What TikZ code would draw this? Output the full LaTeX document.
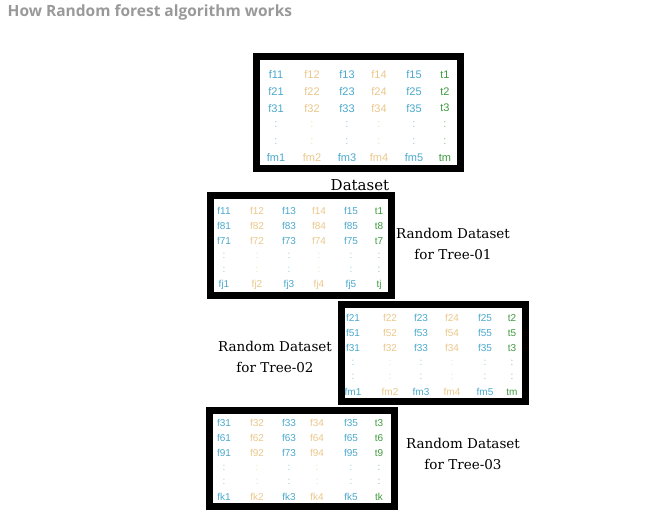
\documentclass[tikz,border=0pt]{standalone}
\usepackage{fontspec}
\setmainfont{DejaVu Serif}
\newfontfamily\cellfont{Liberation Sans}
\newfontfamily\headfont{Open Sans}
\definecolor{colblue}{HTML}{4AA8CC}
\definecolor{coltan}{HTML}{EAC78A}
\definecolor{colgreen}{HTML}{3E9A3E}
\definecolor{titlegrey}{HTML}{999999}
\begin{document}
\begin{tikzpicture}[x=1pt,y=-1pt,
    frame/.style={draw=black,line width=7pt},
    cell/.style={inner sep=0pt,font=\cellfont\fontsize{10}{12}\selectfont},
    bigcell/.style={inner sep=0pt,font=\cellfont\fontsize{11}{13}\selectfont},
    fb/.style={text=colblue},
    ft/.style={text=coltan},
    tg/.style={text=colgreen},
    gap/.style={text opacity=0.6},
    caption/.style={inner sep=0pt,align=center,font=\fontsize{13.5}{21}\selectfont}]
  \useasboundingbox (0,0) rectangle (659,519);
  \node[anchor=west,inner sep=0pt,text=titlegrey,font=\headfont\bfseries\fontsize{15.5}{18}\selectfont] (title) at (7.5,12.5) {How Random forest algorithm works};

  % dataset
  \draw[frame] (256.5,56.5) rectangle (460.5,168.5);
  \begin{scope}[every node/.style={bigcell}]
    \draw
      (276,75) node[fb] (a11){f11} (312,75) node[ft] (a12){f12} (347,75) node[fb] (a13){f13}
      (379,75) node[ft] (a14){f14} (414,75) node[fb] (a15){f15} (445,75) node[tg] (a16){t1};
    \draw
      (276,91.6) node[fb] (a21){f21} (312,91.6) node[ft] (a22){f22} (347,91.6) node[fb] (a23){f23}
      (379,91.6) node[ft] (a24){f24} (414,91.6) node[fb] (a25){f25} (445,91.6) node[tg] (a26){t2};
    \draw
      (276,108.2) node[fb] (a31){f31} (312,108.2) node[ft] (a32){f32} (347,108.2) node[fb] (a33){f33}
      (379,108.2) node[ft] (a34){f34} (414,108.2) node[fb] (a35){f35} (445,108.2) node[tg] (a36){t3};
    \draw
      (276,124.8) node[fb,gap] (a41){:} (312,124.8) node[ft,gap] (a42){:} (347,124.8) node[fb,gap] (a43){:}
      (379,124.8) node[ft,gap] (a44){:} (414,124.8) node[fb,gap] (a45){:} (445,124.8) node[tg,gap] (a46){:};
    \draw
      (276,141.4) node[fb,gap] (a51){:} (312,141.4) node[ft,gap] (a52){:} (347,141.4) node[fb,gap] (a53){:}
      (379,141.4) node[ft,gap] (a54){:} (414,141.4) node[fb,gap] (a55){:} (445,141.4) node[tg,gap] (a56){:};
    \draw
      (276,158) node[fb] (a61){fm1} (312,158) node[ft] (a62){fm2} (347,158) node[fb] (a63){fm3}
      (379,158) node[ft] (a64){fm4} (414,158) node[fb] (a65){fm5} (445,158) node[tg] (a66){tm};
  \end{scope}
  \node[caption,font=\fontsize{15}{18}\selectfont] (dataset) at (360,185) {Dataset};

  % tree 01
  \draw[frame] (210.5,195.5) rectangle (391.5,295.5);
  \begin{scope}[every node/.style={cell}]
    \draw
      (224,211) node[fb] (b11){f11} (257,211) node[ft] (b12){f12} (289,211) node[fb] (b13){f13}
      (319,211) node[ft] (b14){f14} (351,211) node[fb] (b15){f15} (379,211) node[tg] (b16){t1};
    \draw
      (224,225.8) node[fb] (b21){f81} (257,225.8) node[ft] (b22){f82} (289,225.8) node[fb] (b23){f83}
      (319,225.8) node[ft] (b24){f84} (351,225.8) node[fb] (b25){f85} (379,225.8) node[tg] (b26){t8};
    \draw
      (224,240.6) node[fb] (b31){f71} (257,240.6) node[ft] (b32){f72} (289,240.6) node[fb] (b33){f73}
      (319,240.6) node[ft] (b34){f74} (351,240.6) node[fb] (b35){f75} (379,240.6) node[tg] (b36){t7};
    \draw
      (224,255.4) node[fb,gap] (b41){:} (257,255.4) node[ft,gap] (b42){:} (289,255.4) node[fb,gap] (b43){:}
      (319,255.4) node[ft,gap] (b44){:} (351,255.4) node[fb,gap] (b45){:} (379,255.4) node[tg,gap] (b46){:};
    \draw
      (224,270.2) node[fb,gap] (b51){:} (257,270.2) node[ft,gap] (b52){:} (289,270.2) node[fb,gap] (b53){:}
      (319,270.2) node[ft,gap] (b54){:} (351,270.2) node[fb,gap] (b55){:} (379,270.2) node[tg,gap] (b56){:};
    \draw
      (224,285) node[fb] (b61){fj1} (257,285) node[ft] (b62){fj2} (289,285) node[fb] (b63){fj3}
      (319,285) node[ft] (b64){fj4} (351,285) node[fb] (b65){fj5} (379,285) node[tg] (b66){tj};
  \end{scope}
  \node[caption] (tree1) at (453,243.5) {Random Dataset\\for Tree-\oldstylenums{01}};

  % tree 02
  \draw[frame] (341.5,304.5) rectangle (525.5,401.5);
  \begin{scope}[every node/.style={cell}]
    \draw
      (353,318) node[fb] (c11){f21} (390,318) node[ft] (c12){f22} (421,318) node[fb] (c13){f23}
      (452,318) node[ft] (c14){f24} (485,318) node[fb] (c15){f25} (512,318) node[tg] (c16){t2};
    \draw
      (353,332.8) node[fb] (c21){f51} (390,332.8) node[ft] (c22){f52} (421,332.8) node[fb] (c23){f53}
      (452,332.8) node[ft] (c24){f54} (485,332.8) node[fb] (c25){f55} (512,332.8) node[tg] (c26){t5};
    \draw
      (353,347.6) node[fb] (c31){f31} (390,347.6) node[ft] (c32){f32} (421,347.6) node[fb] (c33){f33}
      (452,347.6) node[ft] (c34){f34} (485,347.6) node[fb] (c35){f35} (512,347.6) node[tg] (c36){t3};
    \draw
      (353,362.4) node[fb,gap] (c41){:} (390,362.4) node[ft,gap] (c42){:} (421,362.4) node[fb,gap] (c43){:}
      (452,362.4) node[ft,gap] (c44){:} (485,362.4) node[fb,gap] (c45){:} (512,362.4) node[tg,gap] (c46){:};
    \draw
      (353,377.2) node[fb,gap] (c51){:} (390,377.2) node[ft,gap] (c52){:} (421,377.2) node[fb,gap] (c53){:}
      (452,377.2) node[ft,gap] (c54){:} (485,377.2) node[fb,gap] (c55){:} (512,377.2) node[tg,gap] (c56){:};
    \draw
      (353,392) node[fb] (c61){fm1} (390,392) node[ft] (c62){fm2} (421,392) node[fb] (c63){fm3}
      (452,392) node[ft] (c64){fm4} (485,392) node[fb] (c65){fm5} (512,392) node[tg] (c66){tm};
  \end{scope}
  \node[caption] (tree2) at (275,357) {Random Dataset\\for Tree-\oldstylenums{02}};

  % tree 03
  \draw[frame] (209.5,410.5) rectangle (394.5,506.5);
  \begin{scope}[every node/.style={cell}]
    \draw
      (224,423) node[fb] (d11){f31} (257,423) node[ft] (d12){f32} (289,423) node[fb] (d13){f33}
      (317,423) node[ft] (d14){f34} (351,423) node[fb] (d15){f35} (379,423) node[tg] (d16){t3};
    \draw
      (224,437.8) node[fb] (d21){f61} (257,437.8) node[ft] (d22){f62} (289,437.8) node[fb] (d23){f63}
      (317,437.8) node[ft] (d24){f64} (351,437.8) node[fb] (d25){f65} (379,437.8) node[tg] (d26){t6};
    \draw
      (224,452.6) node[fb] (d31){f91} (257,452.6) node[ft] (d32){f92} (289,452.6) node[fb] (d33){f73}
      (317,452.6) node[ft] (d34){f94} (351,452.6) node[fb] (d35){f95} (379,452.6) node[tg] (d36){t9};
    \draw
      (224,467.4) node[fb,gap] (d41){:} (257,467.4) node[ft,gap] (d42){:} (289,467.4) node[fb,gap] (d43){:}
      (317,467.4) node[ft,gap] (d44){:} (351,467.4) node[fb,gap] (d45){:} (379,467.4) node[tg,gap] (d46){:};
    \draw
      (224,482.2) node[fb,gap] (d51){:} (257,482.2) node[ft,gap] (d52){:} (289,482.2) node[fb,gap] (d53){:}
      (317,482.2) node[ft,gap] (d54){:} (351,482.2) node[fb,gap] (d55){:} (379,482.2) node[tg,gap] (d56){:};
    \draw
      (224,497) node[fb] (d61){fk1} (257,497) node[ft] (d62){fk2} (289,497) node[fb] (d63){fk3}
      (317,497) node[ft] (d64){fk4} (351,497) node[fb] (d65){fk5} (379,497) node[tg] (d66){tk};
  \end{scope}
  \node[caption] (tree3) at (463,453.5) {Random Dataset\\for Tree-\oldstylenums{03}};
\end{tikzpicture}
\end{document}
